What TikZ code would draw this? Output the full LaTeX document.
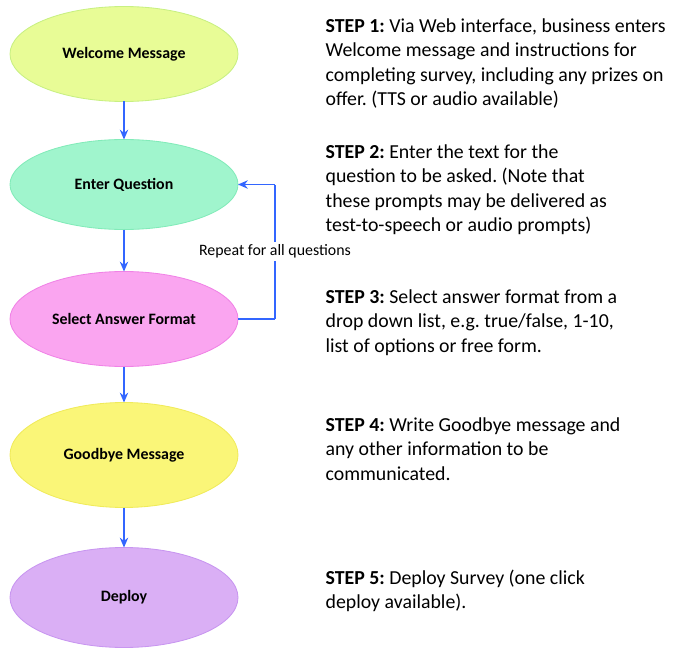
\documentclass[tikz,border=0pt]{standalone}
\usepackage{fontspec}
\setmainfont{Carlito}
\usepackage{tikz}
\usetikzlibrary{arrows.meta, positioning, shapes.geometric}
\frenchspacing

\definecolor{lineblue}{RGB}{51,102,255}
\definecolor{welcomefill}{RGB}{232,252,150}
\definecolor{welcomeline}{RGB}{200,240,130}
\definecolor{questionfill}{RGB}{160,245,205}
\definecolor{questionline}{RGB}{130,235,185}
\definecolor{answerfill}{RGB}{250,165,240}
\definecolor{answerline}{RGB}{240,130,230}
\definecolor{goodbyefill}{RGB}{250,246,120}
\definecolor{goodbyeline}{RGB}{240,235,90}
\definecolor{deployfill}{RGB}{218,175,245}
\definecolor{deployline}{RGB}{200,150,240}

\begin{document}
\begin{tikzpicture}[node distance=1cm, >={Stealth[length=7pt,width=6pt]}, line width=0.9pt]
          % Estilos para las etapas, notas y flechas
          \tikzstyle{stage} = [draw, ellipse, minimum width=5.7cm, minimum height=2.375cm, outer sep=0pt, line width=0.6pt, font=\fontsize{11.3}{13.8}\selectfont\bfseries]
          \tikzstyle{note} = [anchor=north west, align=left, inner sep=0pt, font=\fontsize{14.1}{17.3}\selectfont]
          \tikzstyle{flow} = [->, draw=lineblue]

          \useasboundingbox (0,0) rectangle (16.85,-16.225);

          % Etapas del flujo
          \node [stage, fill=welcomefill, draw=welcomeline] at (3.1,-1.35) (welcome) {Welcome Message};
          \node [stage, fill=questionfill, draw=questionline, minimum height=2.25cm, below=0.95cm of welcome] (question) {Enter Question};
          \node [stage, fill=answerfill, draw=answerline, below=1.05cm of question] (answer) {Select Answer Format};
          \node [stage, fill=goodbyefill, draw=goodbyeline, minimum height=2.625cm, below=0.9cm of answer] (goodbye) {Goodbye Message};
          \node [stage, fill=deployfill, draw=deployline, minimum height=2.5cm, below=1cm of goodbye] (deploy) {Deploy};

          % Nodos auxiliares del bucle
          \node [coordinate, right=0.925cm of answer] (elbow1) {};
          \node [coordinate] at (elbow1 |- question) (elbow2) {};

          % Notas de cada paso
          \node [note] at (8.125,-0.375) (step1) {\strut\textbf{STEP 1:} Via Web interface, business enters\\Welcome message and instructions for\\completing survey, including any prizes on\\offer. (TTS or audio available)};
          \node [note] at (8.125,-3.525) (step2) {\strut\textbf{STEP 2:} Enter the text for the\\question to be asked. (Note that\\these prompts may be delivered as\\test-to-speech or audio prompts)};
          \node [note] at (8.125,-7.15) (step3) {\strut\textbf{STEP 3:} Select answer format from a\\drop down list, e.g. true/false, 1-10,\\list of options or free form.};
          \node [note] at (8.125,-10.35) (step4) {\strut\textbf{STEP 4:} Write Goodbye message and\\any other information to be\\communicated.};
          \node [note] at (8.125,-14.175) (step5) {\strut\textbf{STEP 5:} Deploy Survey (one click\\deploy available).};

          % Conexiones
          \draw [flow] (welcome) -- (question);
          \draw [flow] (question) -- (answer);
          \draw [flow] (answer) -- (goodbye);
          \draw [flow] (goodbye) -- (deploy);
          \draw [draw=lineblue] (answer) -- (elbow1);
          \draw [draw=lineblue] (elbow1) -- node [fill=white, inner sep=2pt, font=\fontsize{11.3}{13.8}\selectfont] {Repeat for all questions} (elbow2);
          \draw [flow] (elbow2) -- (question);
        \end{tikzpicture}
\end{document}
